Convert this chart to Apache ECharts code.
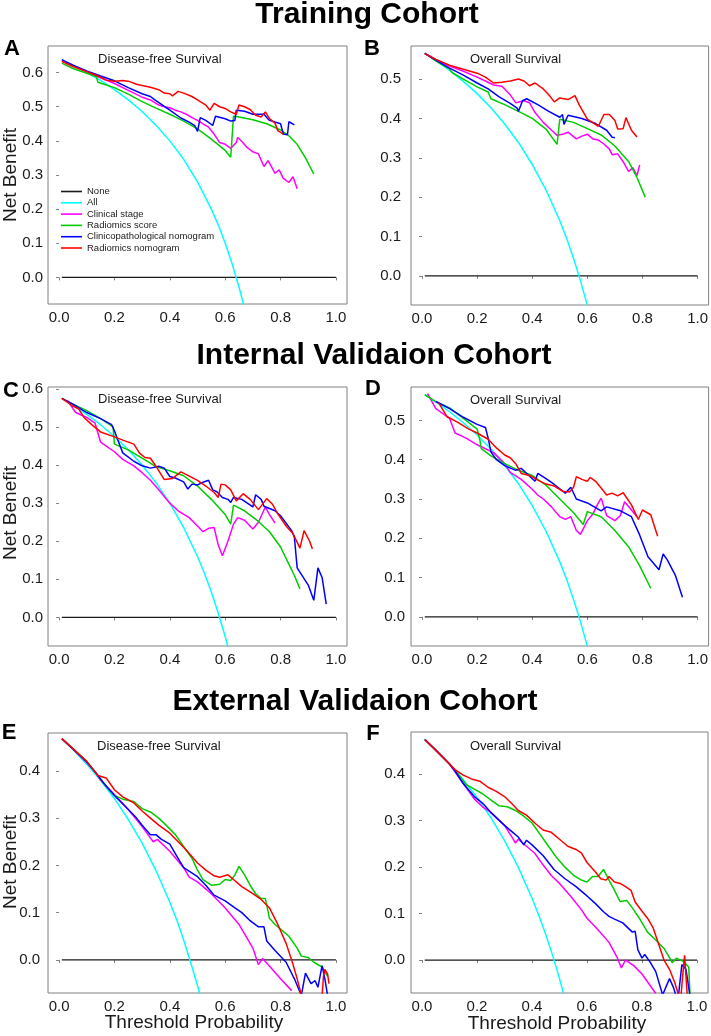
<!DOCTYPE html>
<html>
<head>
<meta charset="utf-8">
<script src="https://cdn.jsdelivr.net/npm/echarts@6/dist/echarts.min.js"></script>
<style>html,body{margin:0;padding:0;background:#fff}#c{width:711px;height:1036px}</style>
</head>
<body>
<div id="c"></div>
<script>
// ---------------- DATA ----------------
const seriesNames = ['None','All','Clinical stage','Radiomics score','Clinicopathological nomogram','Radiomics nomogram'];
const xTicks = [0,0.2,0.4,0.6,0.8,1.0];
const yTicks06 = [0,0.1,0.2,0.3,0.4,0.5,0.6];
const yTicks05 = [0,0.1,0.2,0.3,0.4,0.5];
const yTicks04 = [0,0.1,0.2,0.3,0.4];
const cohortTitles = ['Training Cohort','Internal Validaion Cohort','External Validaion Cohort'];
const panelLetters = ['A','B','C','D','E','F'];
const panelSubtitles = ['Disease-free Survival','Overall Survival','Disease-free Survival','Overall Survival','Disease-free Survival','Overall Survival'];

const noneLine = [[0.01,0],[1.0,0]];

// Panel A - Training, DFS
const A_all = [[0.01,0.636],[0.05,0.621],[0.1,0.600],[0.15,0.577],[0.2,0.550],[0.25,0.520],[0.3,0.486],[0.35,0.446],[0.4,0.400],[0.45,0.346],[0.5,0.280],[0.55,0.200],[0.575,0.154],[0.6,0.100],[0.625,0.040],[0.65,-0.029],[0.67,-0.091]];
const A_clin = [[0.01,0.635],[0.05,0.622],[0.1,0.603],[0.15,0.585],[0.2,0.568],[0.25,0.548],[0.3,0.528],[0.33,0.52],[0.36,0.505],[0.38,0.50],[0.4,0.497],[0.42,0.49],[0.44,0.485],[0.46,0.478],[0.48,0.468],[0.5,0.46],[0.52,0.45],[0.54,0.44],[0.56,0.42],[0.58,0.395],[0.6,0.39],[0.62,0.378],[0.64,0.395],[0.645,0.41],[0.66,0.398],[0.68,0.38],[0.70,0.368],[0.72,0.362],[0.74,0.325],[0.755,0.342],[0.77,0.32],[0.78,0.305],[0.795,0.315],[0.81,0.29],[0.83,0.278],[0.845,0.295],[0.86,0.26]];
const A_rad = [[0.01,0.628],[0.05,0.612],[0.1,0.598],[0.135,0.588],[0.14,0.572],[0.2,0.556],[0.25,0.537],[0.3,0.515],[0.35,0.496],[0.4,0.478],[0.45,0.458],[0.5,0.435],[0.55,0.405],[0.6,0.372],[0.62,0.352],[0.63,0.472],[0.65,0.47],[0.7,0.462],[0.75,0.45],[0.8,0.432],[0.83,0.415],[0.86,0.39],[0.89,0.35],[0.92,0.303]];
const A_cpn = [[0.01,0.638],[0.05,0.622],[0.1,0.605],[0.15,0.59],[0.2,0.576],[0.25,0.556],[0.3,0.538],[0.33,0.53],[0.35,0.518],[0.4,0.49],[0.44,0.467],[0.47,0.455],[0.49,0.445],[0.50,0.428],[0.51,0.468],[0.53,0.46],[0.555,0.445],[0.565,0.472],[0.6,0.465],[0.62,0.458],[0.635,0.46],[0.64,0.49],[0.67,0.487],[0.7,0.478],[0.74,0.478],[0.76,0.46],[0.8,0.45],[0.81,0.42],[0.825,0.418],[0.83,0.456],[0.85,0.447]];
const A_rn = [[0.01,0.633],[0.05,0.618],[0.1,0.603],[0.14,0.59],[0.17,0.578],[0.2,0.575],[0.23,0.577],[0.25,0.575],[0.28,0.566],[0.3,0.562],[0.33,0.557],[0.36,0.55],[0.38,0.54],[0.4,0.538],[0.41,0.532],[0.43,0.545],[0.45,0.54],[0.48,0.53],[0.5,0.52],[0.53,0.505],[0.545,0.49],[0.56,0.51],[0.58,0.5],[0.6,0.495],[0.62,0.485],[0.64,0.478],[0.65,0.505],[0.67,0.5],[0.69,0.492],[0.71,0.475],[0.73,0.47],[0.745,0.485],[0.76,0.465],[0.78,0.452],[0.79,0.43],[0.81,0.42]];

// Panel B - Training, OS
const B_all = [[0.01,0.566],[0.05,0.547],[0.1,0.522],[0.15,0.494],[0.2,0.463],[0.25,0.427],[0.3,0.386],[0.35,0.339],[0.4,0.283],[0.45,0.218],[0.5,0.140],[0.525,0.095],[0.55,0.044],[0.575,-0.012],[0.6,-0.075]];
const B_clin = [[0.01,0.565],[0.05,0.55],[0.1,0.533],[0.15,0.52],[0.2,0.505],[0.23,0.495],[0.26,0.485],[0.29,0.482],[0.32,0.46],[0.34,0.44],[0.37,0.445],[0.39,0.44],[0.41,0.415],[0.44,0.39],[0.47,0.37],[0.49,0.357],[0.51,0.36],[0.53,0.365],[0.56,0.348],[0.58,0.355],[0.6,0.36],[0.62,0.348],[0.64,0.345],[0.66,0.335],[0.68,0.322],[0.69,0.308],[0.71,0.31],[0.73,0.29],[0.75,0.265],[0.765,0.275],[0.78,0.255],[0.79,0.282]];
const B_rad = [[0.01,0.565],[0.05,0.546],[0.1,0.525],[0.11,0.516],[0.15,0.5],[0.2,0.48],[0.24,0.467],[0.25,0.45],[0.3,0.435],[0.35,0.418],[0.4,0.4],[0.45,0.373],[0.49,0.334],[0.5,0.398],[0.55,0.39],[0.6,0.374],[0.65,0.358],[0.7,0.33],[0.75,0.29],[0.78,0.25],[0.81,0.2]];
const B_cpn = [[0.01,0.565],[0.05,0.548],[0.1,0.528],[0.15,0.51],[0.2,0.49],[0.24,0.475],[0.28,0.455],[0.32,0.438],[0.345,0.426],[0.35,0.418],[0.365,0.445],[0.38,0.45],[0.42,0.435],[0.46,0.418],[0.5,0.403],[0.51,0.41],[0.515,0.385],[0.53,0.408],[0.58,0.4],[0.63,0.387],[0.67,0.37],[0.69,0.352],[0.70,0.351]];
const B_rn = [[0.01,0.565],[0.05,0.55],[0.1,0.535],[0.15,0.525],[0.2,0.515],[0.23,0.505],[0.26,0.49],[0.29,0.492],[0.32,0.495],[0.35,0.5],[0.37,0.495],[0.39,0.483],[0.41,0.49],[0.44,0.475],[0.46,0.46],[0.48,0.442],[0.5,0.452],[0.53,0.448],[0.555,0.458],[0.57,0.435],[0.6,0.398],[0.64,0.38],[0.66,0.41],[0.68,0.41],[0.7,0.395],[0.71,0.373],[0.73,0.374],[0.74,0.402],[0.76,0.37],[0.78,0.353]];

// Panel C - Internal validation, DFS
const C_all = [[0.01,0.576],[0.05,0.558],[0.1,0.533],[0.15,0.506],[0.2,0.475],[0.25,0.440],[0.3,0.400],[0.35,0.354],[0.4,0.300],[0.45,0.236],[0.5,0.160],[0.525,0.116],[0.55,0.067],[0.575,0.011],[0.6,-0.050],[0.62,-0.105]];
const C_clin = [[0.03,0.57],[0.06,0.538],[0.1,0.525],[0.13,0.51],[0.15,0.46],[0.2,0.435],[0.23,0.415],[0.27,0.398],[0.3,0.38],[0.33,0.36],[0.36,0.335],[0.4,0.3],[0.43,0.28],[0.47,0.262],[0.5,0.24],[0.52,0.225],[0.54,0.234],[0.56,0.236],[0.575,0.19],[0.59,0.162],[0.61,0.2],[0.63,0.245],[0.645,0.262],[0.67,0.255],[0.7,0.232],[0.72,0.25],[0.745,0.29],[0.76,0.27],[0.78,0.248]];
const C_rad = [[0.01,0.575],[0.05,0.56],[0.1,0.543],[0.15,0.522],[0.195,0.5],[0.2,0.455],[0.25,0.44],[0.3,0.418],[0.35,0.396],[0.4,0.385],[0.45,0.372],[0.5,0.345],[0.55,0.31],[0.6,0.27],[0.62,0.245],[0.63,0.295],[0.67,0.28],[0.72,0.252],[0.76,0.225],[0.8,0.185],[0.83,0.14],[0.85,0.11],[0.87,0.075]];
const C_cpn = [[0.01,0.575],[0.05,0.56],[0.1,0.538],[0.15,0.522],[0.19,0.506],[0.2,0.49],[0.21,0.47],[0.23,0.432],[0.27,0.41],[0.3,0.398],[0.33,0.392],[0.36,0.397],[0.38,0.392],[0.4,0.37],[0.42,0.366],[0.45,0.356],[0.465,0.337],[0.48,0.35],[0.5,0.348],[0.52,0.355],[0.54,0.36],[0.555,0.335],[0.57,0.33],[0.59,0.315],[0.61,0.31],[0.62,0.302],[0.63,0.315],[0.66,0.31],[0.7,0.29],[0.71,0.322],[0.73,0.31],[0.74,0.292],[0.78,0.28],[0.8,0.267],[0.84,0.228],[0.85,0.21],[0.86,0.13],[0.9,0.085],[0.92,0.045],[0.935,0.13],[0.95,0.105],[0.965,0.035]];
const C_rn = [[0.01,0.575],[0.05,0.555],[0.07,0.548],[0.09,0.525],[0.12,0.505],[0.15,0.487],[0.2,0.474],[0.24,0.463],[0.27,0.455],[0.29,0.432],[0.31,0.42],[0.33,0.418],[0.35,0.397],[0.38,0.362],[0.41,0.365],[0.44,0.382],[0.46,0.375],[0.5,0.36],[0.53,0.345],[0.56,0.328],[0.575,0.315],[0.585,0.35],[0.6,0.348],[0.62,0.335],[0.64,0.306],[0.665,0.325],[0.69,0.31],[0.72,0.283],[0.75,0.312],[0.77,0.298],[0.79,0.272],[0.82,0.24],[0.845,0.22],[0.87,0.182],[0.885,0.228],[0.905,0.2],[0.915,0.18]];

// Panel D - Internal validation, OS
const D_all = [[0.01,0.566],[0.05,0.547],[0.1,0.522],[0.15,0.494],[0.2,0.463],[0.25,0.427],[0.3,0.386],[0.35,0.339],[0.4,0.283],[0.45,0.218],[0.5,0.140],[0.525,0.095],[0.55,0.044],[0.575,-0.012],[0.6,-0.075]];
const D_clin = [[0.02,0.568],[0.05,0.53],[0.08,0.515],[0.1,0.505],[0.12,0.468],[0.16,0.455],[0.2,0.438],[0.23,0.428],[0.26,0.418],[0.3,0.39],[0.32,0.368],[0.36,0.35],[0.4,0.325],[0.42,0.31],[0.44,0.3],[0.47,0.28],[0.5,0.255],[0.52,0.248],[0.54,0.255],[0.56,0.22],[0.575,0.21],[0.6,0.245],[0.62,0.262],[0.64,0.29],[0.65,0.302],[0.67,0.258],[0.7,0.245],[0.72,0.258],[0.735,0.293],[0.76,0.272],[0.78,0.255]];
const D_rad = [[0.01,0.565],[0.05,0.548],[0.1,0.532],[0.15,0.505],[0.2,0.478],[0.21,0.45],[0.215,0.428],[0.25,0.41],[0.3,0.39],[0.35,0.373],[0.4,0.36],[0.45,0.335],[0.5,0.3],[0.55,0.265],[0.585,0.235],[0.6,0.268],[0.65,0.255],[0.7,0.22],[0.75,0.178],[0.79,0.13],[0.83,0.073]];
const D_cpn = [[0.05,0.548],[0.1,0.53],[0.15,0.508],[0.2,0.49],[0.23,0.482],[0.24,0.455],[0.25,0.42],[0.27,0.4],[0.3,0.385],[0.34,0.373],[0.36,0.378],[0.38,0.365],[0.41,0.345],[0.42,0.365],[0.45,0.352],[0.48,0.337],[0.52,0.315],[0.54,0.33],[0.56,0.3],[0.6,0.29],[0.65,0.27],[0.67,0.28],[0.72,0.27],[0.76,0.255],[0.79,0.208],[0.82,0.153],[0.86,0.12],[0.875,0.16],[0.89,0.145],[0.92,0.105],[0.945,0.05]];
const D_rn = [[0.06,0.545],[0.09,0.51],[0.13,0.495],[0.17,0.478],[0.2,0.468],[0.24,0.452],[0.27,0.43],[0.3,0.412],[0.32,0.405],[0.34,0.39],[0.36,0.365],[0.39,0.36],[0.42,0.348],[0.45,0.338],[0.48,0.333],[0.51,0.32],[0.535,0.318],[0.55,0.33],[0.56,0.357],[0.58,0.35],[0.6,0.345],[0.61,0.355],[0.63,0.345],[0.65,0.328],[0.67,0.31],[0.69,0.315],[0.71,0.308],[0.73,0.316],[0.76,0.285],[0.785,0.248],[0.8,0.272],[0.83,0.26],[0.855,0.205]];

// Panel E - External validation, DFS
const E_all = [[0.01,0.468],[0.05,0.445],[0.1,0.414],[0.15,0.380],[0.2,0.341],[0.25,0.297],[0.3,0.247],[0.35,0.189],[0.4,0.122],[0.425,0.085],[0.45,0.042],[0.475,-0.005],[0.5,-0.054],[0.52,-0.098]];
const E_clin = [[0.01,0.468],[0.05,0.446],[0.1,0.418],[0.13,0.398],[0.15,0.38],[0.2,0.35],[0.25,0.318],[0.3,0.282],[0.34,0.25],[0.355,0.255],[0.4,0.23],[0.45,0.195],[0.47,0.175],[0.5,0.165],[0.55,0.14],[0.6,0.11],[0.65,0.075],[0.7,0.025],[0.72,-0.01],[0.735,0.003],[0.77,-0.02],[0.8,-0.04],[0.84,-0.065]];
const E_rad = [[0.01,0.468],[0.05,0.447],[0.1,0.42],[0.14,0.39],[0.18,0.36],[0.2,0.348],[0.23,0.34],[0.27,0.335],[0.3,0.32],[0.33,0.313],[0.36,0.3],[0.39,0.283],[0.42,0.265],[0.45,0.24],[0.48,0.215],[0.5,0.19],[0.52,0.17],[0.55,0.158],[0.58,0.16],[0.6,0.17],[0.62,0.168],[0.635,0.18],[0.65,0.198],[0.67,0.18],[0.69,0.158],[0.71,0.14],[0.73,0.13],[0.745,0.13],[0.76,0.088],[0.78,0.075],[0.8,0.065],[0.83,0.05],[0.86,0.025],[0.875,0.008],[0.9,0.005],[0.92,-0.005],[0.95,-0.015],[0.97,-0.035]];
const E_cpn = [[0.01,0.468],[0.05,0.446],[0.1,0.418],[0.13,0.398],[0.16,0.375],[0.2,0.348],[0.25,0.318],[0.28,0.3],[0.3,0.285],[0.33,0.265],[0.35,0.265],[0.37,0.255],[0.4,0.245],[0.43,0.215],[0.45,0.195],[0.5,0.176],[0.53,0.158],[0.56,0.137],[0.6,0.125],[0.63,0.112],[0.66,0.1],[0.69,0.083],[0.72,0.07],[0.74,0.07],[0.75,0.04],[0.78,0.02],[0.82,-0.005],[0.85,-0.04],[0.875,-0.075],[0.89,-0.028],[0.91,-0.05],[0.925,-0.044],[0.935,-0.058],[0.95,-0.012],[0.96,-0.04],[0.97,-0.075]];
const E_rn = [[0.01,0.468],[0.05,0.447],[0.1,0.42],[0.14,0.39],[0.17,0.385],[0.2,0.36],[0.23,0.345],[0.27,0.332],[0.3,0.315],[0.33,0.3],[0.36,0.285],[0.4,0.268],[0.43,0.25],[0.46,0.232],[0.5,0.205],[0.53,0.19],[0.56,0.178],[0.58,0.175],[0.61,0.18],[0.63,0.17],[0.66,0.155],[0.7,0.14],[0.73,0.128],[0.76,0.11],[0.79,0.075],[0.82,0.035],[0.84,0.0],[0.86,-0.04],[0.88,-0.085],[0.9,-0.12],[0.94,-0.12],[0.95,-0.075],[0.955,-0.035],[0.96,-0.02],[0.97,-0.03],[0.975,-0.05]];

// Panel F - External validation, OS
const F_all = [[0.01,0.475],[0.05,0.453],[0.1,0.422],[0.15,0.388],[0.2,0.350],[0.25,0.307],[0.3,0.257],[0.35,0.200],[0.4,0.133],[0.425,0.096],[0.45,0.055],[0.475,0.010],[0.5,-0.040],[0.53,-0.106]];
const F_clin = [[0.01,0.475],[0.05,0.452],[0.1,0.422],[0.12,0.405],[0.15,0.38],[0.19,0.347],[0.22,0.33],[0.25,0.318],[0.3,0.29],[0.33,0.262],[0.34,0.252],[0.35,0.26],[0.38,0.245],[0.41,0.23],[0.44,0.205],[0.47,0.182],[0.5,0.165],[0.54,0.138],[0.58,0.108],[0.6,0.09],[0.64,0.065],[0.68,0.038],[0.71,0.005],[0.725,-0.017],[0.74,0.0],[0.77,-0.012],[0.8,-0.03],[0.85,-0.072]];
const F_rad = [[0.01,0.475],[0.05,0.452],[0.1,0.422],[0.13,0.402],[0.16,0.378],[0.19,0.368],[0.22,0.358],[0.25,0.345],[0.28,0.332],[0.31,0.33],[0.34,0.322],[0.37,0.31],[0.4,0.295],[0.43,0.27],[0.46,0.245],[0.49,0.22],[0.52,0.2],[0.55,0.183],[0.58,0.172],[0.6,0.168],[0.62,0.18],[0.64,0.18],[0.66,0.195],[0.68,0.172],[0.7,0.15],[0.72,0.126],[0.745,0.128],[0.77,0.108],[0.79,0.09],[0.82,0.06],[0.85,0.043],[0.88,0.025],[0.9,0.005],[0.91,-0.006],[0.925,0.004],[0.95,-0.003],[0.97,-0.015],[0.975,-0.08]];
const F_cpn = [[0.01,0.475],[0.05,0.452],[0.1,0.422],[0.12,0.407],[0.15,0.38],[0.19,0.352],[0.22,0.338],[0.25,0.318],[0.3,0.29],[0.33,0.275],[0.35,0.265],[0.37,0.248],[0.38,0.258],[0.4,0.248],[0.44,0.225],[0.48,0.195],[0.52,0.175],[0.56,0.158],[0.6,0.138],[0.63,0.122],[0.66,0.104],[0.68,0.094],[0.7,0.088],[0.73,0.08],[0.765,0.06],[0.775,0.062],[0.785,0.022],[0.8,0.004],[0.81,0.012],[0.83,-0.005],[0.85,-0.025],[0.875,-0.075],[0.9,-0.04],[0.915,-0.06],[0.93,-0.09],[0.945,-0.01],[0.96,-0.02],[0.975,-0.08]];
const F_rn = [[0.01,0.475],[0.05,0.452],[0.1,0.422],[0.12,0.41],[0.15,0.398],[0.18,0.39],[0.21,0.385],[0.24,0.372],[0.27,0.363],[0.3,0.352],[0.33,0.335],[0.35,0.322],[0.38,0.312],[0.41,0.295],[0.44,0.28],[0.47,0.275],[0.5,0.26],[0.53,0.245],[0.56,0.238],[0.58,0.23],[0.6,0.21],[0.63,0.19],[0.65,0.175],[0.67,0.172],[0.68,0.18],[0.7,0.168],[0.72,0.165],[0.74,0.158],[0.76,0.15],[0.775,0.125],[0.8,0.105],[0.82,0.09],[0.84,0.07],[0.86,0.035],[0.88,0.0],[0.9,-0.02],[0.92,-0.05],[0.94,-0.09],[0.95,-0.02],[0.955,0.01],[0.965,-0.08]];

// ---------------- LAYOUT / STYLE ----------------
const FONT = '"Liberation Sans", Arial, Helvetica, sans-serif';
const colors = ['#1a1a1a','#00FFFF','#FF00FF','#00CD00','#0000FF','#FF0000'];
const panels = [
  {grid:{left:48,top:46,width:299,height:258}, ymin:-0.078, ymax:0.678, yt:yTicks06, lm:5, data:[noneLine,A_all,A_clin,A_rad,A_cpn,A_rn]},
  {grid:{left:411,top:46,width:298,height:259}, ymin:-0.074, ymax:0.584, yt:yTicks05, lm:10, data:[noneLine,B_all,B_clin,B_rad,B_cpn,B_rn]},
  {grid:{left:48,top:387,width:299,height:259}, ymin:-0.075, ymax:0.605, yt:yTicks06, lm:5, data:[noneLine,C_all,C_clin,C_rad,C_cpn,C_rn]},
  {grid:{left:411,top:387,width:298,height:259}, ymin:-0.074, ymax:0.585, yt:yTicks05, lm:6, data:[noneLine,D_all,D_clin,D_rad,D_cpn,D_rn]},
  {grid:{left:48,top:733,width:299,height:260}, ymin:-0.070, ymax:0.480, yt:yTicks04, lm:8, data:[noneLine,E_all,E_clin,E_rad,E_cpn,E_rn]},
  {grid:{left:411,top:732,width:297,height:261}, ymin:-0.071, ymax:0.491, yt:yTicks04, lm:6, data:[noneLine,F_all,F_clin,F_rad,F_cpn,F_rn]}
];
const letterPos = [[12,49],[372,49],[11,391],[373,389],[9,733],[373,734]];
const subPos = [[98,59],[470,59],[98,399],[470,400],[97,746],[470,746]];
const titlePos = [[367,15],[374,356],[355,702]];

const grids = [], xAxes = [], yAxes = [], series = [], graphics = [];
panels.forEach((p, i) => {
  grids.push(Object.assign({show:true, borderColor:'#808080', borderWidth:1, backgroundColor:'transparent', containLabel:false}, p.grid));
  xAxes.push({type:'value', gridIndex:i, min:-0.04, max:1.04,
    axisLine:{show:false}, splitLine:{show:false},
    axisTick:{show:true, inside:false, length:3, customValues:xTicks, lineStyle:{color:'#808080'}},
    axisLabel:{show:true, customValues:xTicks, margin:6, fontSize:15, fontFamily:FONT, color:'#1a1a1a', formatter:v=>v.toFixed(1)}});
  yAxes.push({type:'value', gridIndex:i, min:p.ymin, max:p.ymax,
    axisLine:{show:false}, splitLine:{show:false},
    axisTick:{show:true, inside:false, length:3, customValues:p.yt, lineStyle:{color:'#808080'}},
    axisLabel:{show:true, customValues:p.yt, margin:p.lm, fontSize:15, fontFamily:FONT, color:'#1a1a1a', formatter:v=>v.toFixed(1)}});
  p.data.forEach((d, k) => {
    series.push({type:'line', name:seriesNames[k], xAxisIndex:i, yAxisIndex:i, data:d,
      symbol:'none', showSymbol:false, clip:true, silent:true, animation:false,
      lineStyle:{color:colors[k], width:k===0?1.3:1.5}, itemStyle:{color:colors[k]}});
  });
  graphics.push({type:'text', x:letterPos[i][0], y:letterPos[i][1],
    style:{text:panelLetters[i], font:'bold 22px '+FONT, fill:'#000', textAlign:'center', textVerticalAlign:'middle'}});
  graphics.push({type:'text', x:subPos[i][0], y:subPos[i][1],
    style:{text:panelSubtitles[i], font:'13px '+FONT, fill:'#1a1a1a', textAlign:'left', textVerticalAlign:'middle'}});
});
cohortTitles.forEach((t, j) => {
  graphics.push({type:'text', x:titlePos[j][0], y:titlePos[j][1],
    style:{text:t, font:'bold 30px '+FONT, fill:'#000', textAlign:'center', textVerticalAlign:'middle'}});
});
[[11,175],[11,513],[11,862]].forEach(pos => {
  graphics.push({type:'text', x:pos[0], y:pos[1], rotation:Math.PI/2,
    style:{text:'Net Benefit', font:'19px '+FONT, fill:'#1a1a1a', textAlign:'center', textVerticalAlign:'middle'}});
});
[[194,1023],[557,1024]].forEach(pos => {
  graphics.push({type:'text', x:pos[0], y:pos[1],
    style:{text:'Threshold Probability', font:'19px '+FONT, fill:'#1a1a1a', textAlign:'center', textVerticalAlign:'middle'}});
});

const chart = echarts.init(document.getElementById('c'), null, {renderer:'canvas', width:711, height:1036});
chart.setOption({
  animation:false,
  backgroundColor:'#ffffff',
  grid:grids, xAxis:xAxes, yAxis:yAxes, series:series, graphic:graphics,
  legend:{show:true, data:seriesNames, orient:'vertical', left:61, top:186, padding:0, itemWidth:21, itemHeight:11, itemGap:0.3,
    icon:'path://M0,5 L21,5 L21,6.6 L0,6.6 Z', selectedMode:false,
    textStyle:{fontSize:9.5, lineHeight:11, fontFamily:FONT, color:'#1a1a1a'}}
});
</script>
</body>
</html>
